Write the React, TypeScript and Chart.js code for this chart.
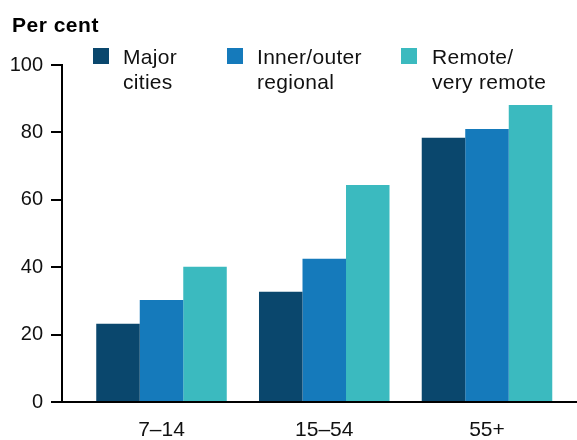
import React, { useEffect, useRef } from "react";
import { Chart, registerables } from "chart.js";

Chart.register(...registerables);

const categories = ["7–14", "15–54", "55+"];
const majorCities = [23.2, 32.7, 78.4];
const innerOuterRegional = [30.3, 42.5, 81.0];
const remoteVeryRemote = [40.1, 64.4, 88.1];
const seriesLabels = ["Major\ncities", "Inner/outer\nregional", "Remote/\nvery remote"];
const seriesColors = ["#0A476D", "#157ABB", "#3BBABF"];
const yTickValues = [0, 20, 40, 60, 80, 100];
const yAxisTitle = "Per cent";

const FONT = "Arial, 'Liberation Sans', sans-serif";

const legendPlugin = {
  id: "customLegend",
  afterDraw(chart: any) {
    const ctx = chart.ctx;
    ctx.save();
    // axis title
    ctx.fillStyle = "#000";
    ctx.font = `bold 21px ${FONT}`;
    ctx.textAlign = "left";
    ctx.textBaseline = "alphabetic";
    (ctx as any).letterSpacing = "0.5px";
    ctx.fillText(yAxisTitle, 12, 32);
    // legend
    const boxX = [93, 227, 401];
    const textX = [123, 257, 432];
    ctx.font = `21px ${FONT}`;
    (ctx as any).letterSpacing = "0.3px";
    chart.data.datasets.forEach((ds: any, i: number) => {
      ctx.fillStyle = ds.backgroundColor;
      ctx.fillRect(boxX[i], 48, 16, 16);
      ctx.fillStyle = "#111";
      const lines = String(ds.label).split("\n");
      lines.forEach((line: string, j: number) => {
        ctx.fillText(line, textX[i], 64 + j * 25);
      });
    });
    ctx.restore();
  },
};

export default function App() {
  const ref = useRef<HTMLCanvasElement>(null);
  useEffect(() => {
    if (!ref.current) return;
    const series = [majorCities, innerOuterRegional, remoteVeryRemote];
    const chart = new Chart(ref.current, {
      type: "bar",
      data: {
        datasets: series.map((vals, i) => ({
          label: seriesLabels[i],
          data: vals.map((v, k) => ({ x: k, y: v })),
          backgroundColor: seriesColors[i],
          borderWidth: 0,
          barPercentage: 1,
          categoryPercentage: 0.802,
        })),
      },
      options: {
        animation: false,
        responsive: false,
        devicePixelRatio: 1,
        layout: { padding: { top: 65, left: 0, right: 0, bottom: 0 } },
        plugins: {
          legend: { display: false },
          tooltip: { enabled: false },
          title: { display: false },
        },
        scales: {
          x: {
            type: "linear",
            min: -0.6114,
            max: 2.553,
            offset: false,
            afterBuildTicks: (scale: any) => {
              scale.ticks = categories.map((_, i) => ({ value: i }));
            },
            afterFit: (scale: any) => {
              scale.height = 38;
            },
            ticks: {
              autoSkip: false,
              maxRotation: 0,
              padding: 16,
              color: "#111",
              font: { family: FONT, size: 21 },
              callback: (v: any) => categories[v] ?? "",
            },
            grid: { display: true, drawOnChartArea: false, drawTicks: false, offset: false },
            border: { display: true, color: "#000", width: 2 },
          },
          y: {
            type: "linear",
            min: 0,
            max: 100,
            afterBuildTicks: (scale: any) => {
              scale.ticks = yTickValues.map((v) => ({ value: v }));
            },
            afterFit: (scale: any) => {
              scale.width = 62;
            },
            ticks: {
              padding: 8,
              color: "#111",
              font: { family: FONT, size: 20 },
            },
            grid: {
              drawOnChartArea: false,
              drawTicks: true,
              tickLength: 11,
              color: "#000",
              lineWidth: 2,
            },
            border: { display: true, color: "#000", width: 2 },
          },
        },
      },
      plugins: [legendPlugin],
    } as any);
    return () => chart.destroy();
  }, []);
  return (
    <div style={{ position: "fixed", left: 0, top: 0, width: 577, height: 440, background: "#fff" }}>
      <canvas ref={ref} width={577} height={440} style={{ width: 577, height: 440 }} />
    </div>
  );
}
